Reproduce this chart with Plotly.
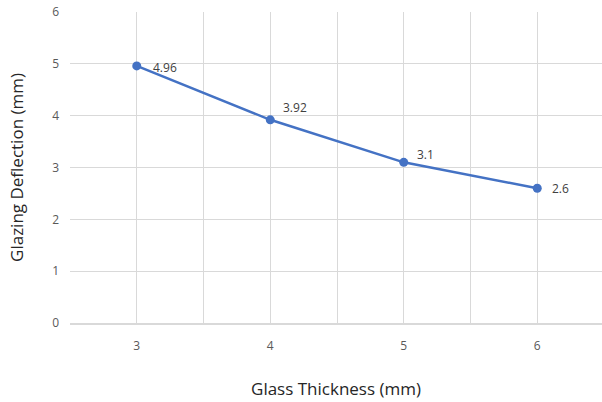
import plotly.graph_objects as go

thickness = [3, 4, 5, 6]
deflection = [4.96, 3.92, 3.1, 2.6]
labels = ["4.96", "3.92", "3.1", "2.6"]
label_dx = [14, 11, 11, 13]
label_dy = [-2, 12, 8, 0]

fig = go.Figure()
fig.add_trace(go.Scatter(
    x=thickness, y=deflection, mode="lines+markers",
    line=dict(color="#4472C4", width=2.5),
    marker=dict(color="#4472C4", size=9),
    cliponaxis=False,
))
for xv, yv, t, dx, dy in zip(thickness, deflection, labels, label_dx, label_dy):
    fig.add_annotation(x=xv, y=yv, text=t, showarrow=False, xanchor="left",
                       yanchor="middle", xshift=dx, yshift=dy,
                       font=dict(family="Open Sans", size=12, color="#404040"))

grid = "#d9d9d9"
fig.update_layout(
    width=602, height=402,
    margin=dict(l=70, r=0, t=12, b=79),
    paper_bgcolor="white", plot_bgcolor="white",
    showlegend=False,
    font=dict(family="Open Sans", color="#595959"),
    xaxis=dict(
        range=[2.5, 6.485], tickvals=thickness, ticktext=[str(v) for v in thickness],
        showgrid=True, gridcolor=grid, gridwidth=1,
        minor=dict(dtick=0.5, tick0=2.5, showgrid=True, gridcolor=grid, gridwidth=1),
        showline=True, linecolor=grid, linewidth=1.5,
        zeroline=False, ticks="", ticklabelstandoff=11,
        tickfont=dict(size=12, color="#595959"),
        title=dict(text="Glass Thickness (mm)", font=dict(size=17, color="#262626"), standoff=30),
    ),
    yaxis=dict(
        range=[0, 6], dtick=1,
        showgrid=True, gridcolor=grid, gridwidth=1,
        zeroline=False, ticks="", ticklabelstandoff=10,
        tickfont=dict(size=12, color="#595959"),
        title=dict(text="Glazing Deflection (mm)", font=dict(size=17, color="#262626"), standoff=24),
    ),
)
fig.write_html("out.html", config={"displayModeBar": False},
               post_script="document.body.style.margin='0';document.body.style.overflow='hidden';")
